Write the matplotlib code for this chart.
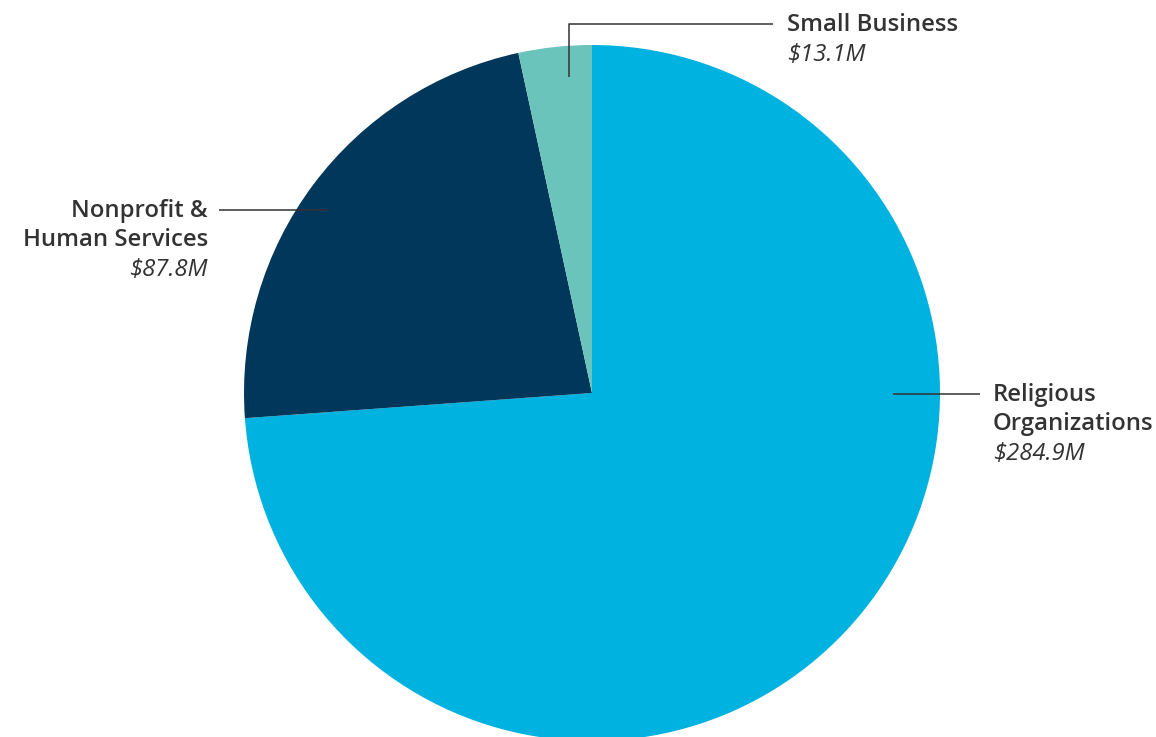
import matplotlib

matplotlib.use("Agg")
import matplotlib.pyplot as plt

labels = ["Religious\nOrganizations", "Nonprofit &\nHuman Services", "Small Business"]
values = [284.9, 87.8, 13.1]
colors = ["#00B2E0", "#01375A", "#6BC4BC"]

TEXT_C = "#333333"
W, H = 1156, 737
CX, CY, R = 592, 393, 348

plt.rcParams["font.family"] = ["Open Sans", "DejaVu Sans"]

fig = plt.figure(figsize=(W / 100, H / 100), dpi=100)
ax = fig.add_axes([(CX - R) / W, (H - CY - R) / H, 2 * R / W, 2 * R / H])
ax.pie(values, colors=colors, startangle=90, counterclock=False, radius=1,
       wedgeprops=dict(linewidth=0))
ax.set_xlim(-1, 1)
ax.set_ylim(-1, 1)
ax.set_aspect("equal")
ax.axis("off")


def d(px, py):
    # pixel position in the reference -> data coords of the pie axes
    return (px - CX) / R, (CY - py) / R


def line(points):
    xs, ys = zip(*[d(*p) for p in points])
    ax.plot(xs, ys, color=TEXT_C, lw=1.1, clip_on=False, solid_capstyle="butt")


def label(px, py, name, value, ha):
    x, y = d(px, py + 2)
    lines = name.split("\n")
    step = 29 / R
    for i, ln in enumerate(lines):
        ax.text(x, y - i * step, ln, ha=ha, va="center", fontsize=17.2,
                fontweight="semibold", color=TEXT_C, clip_on=False)
    ax.text(x, y - len(lines) * step - 1 / R, f"${value}M", ha=ha, va="center",
            fontsize=17.2, fontstyle="italic", color=TEXT_C, clip_on=False)


# Religious Organizations
line([(893, 394), (980, 394)])
label(993, 393, labels[0], values[0], "left")

# Nonprofit & Human Services
line([(219, 210), (327, 210)])
label(208, 209, labels[1], values[1], "right")

# Small Business
line([(569, 77), (569, 24), (773, 24)])
label(787, 23, labels[2], values[2], "left")

fig.savefig("out.png", dpi=100)
